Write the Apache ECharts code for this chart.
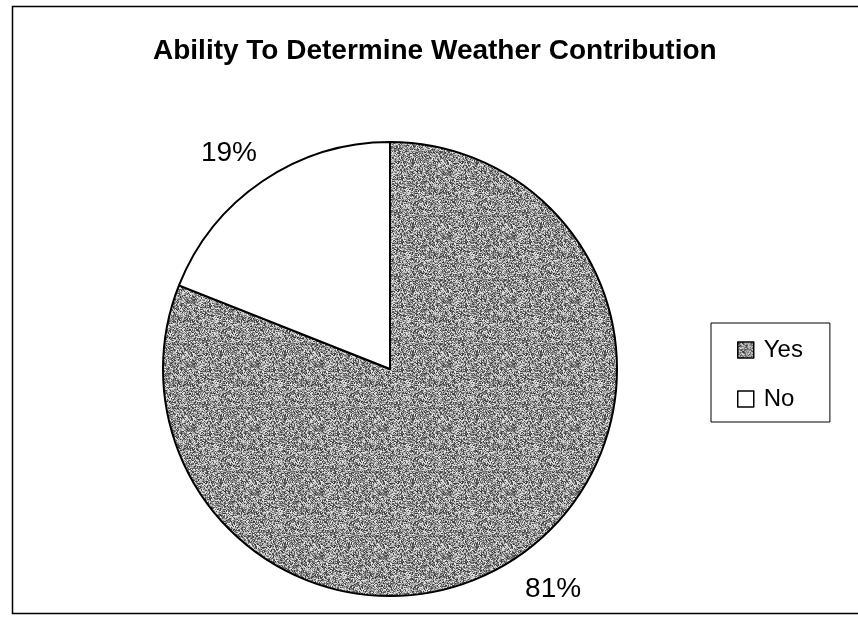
<!DOCTYPE html>
<html>
<head>
<meta charset="utf-8">
<style>
  html, body { margin: 0; padding: 0; background: #fff; }
  #chart { width: 858px; height: 622px; }
</style>
<script src="https://cdn.jsdelivr.net/npm/echarts@6/dist/echarts.min.js"></script>
</head>
<body>
<div id="chart"></div>
<script>
// Survey answers and their shares (percent)
const categories = ['Yes', 'No'];
const shares = [81, 19];
const chartTitle = 'Ability To Determine Weather Contribution';

// Grainy halftone fill for the "Yes" slice, built from a deterministic hash
function halftoneTile(size, base, spread) {
  const c = document.createElement('canvas');
  c.width = size; c.height = size;
  const ctx = c.getContext('2d');
  const img = ctx.createImageData(size, size);
  for (let y = 0; y < size; y++) {
    for (let x = 0; x < size; x++) {
      let h = (x * 374761393 + y * 668265263) | 0;
      h = Math.imul(h ^ (h >>> 13), 1274126177);
      h = (h ^ (h >>> 16)) >>> 0;
      const t = (h % 1000) / 1000;            // 0..1
      let v = base + (t - 0.5) * 2 * spread;
      v = Math.max(0, Math.min(255, Math.round(v)));
      const k = (y * size + x) * 4;
      img.data[k] = img.data[k + 1] = img.data[k + 2] = v;
      img.data[k + 3] = 255;
    }
  }
  ctx.putImageData(img, 0, 0);
  return c;
}

const grain = halftoneTile(64, 145, 95);
const sliceColors = [{ image: grain, repeat: 'repeat' }, '#ffffff'];

const chart = echarts.init(document.getElementById('chart'), null, { renderer: 'canvas' });

const pieData = categories.map((name, i) => ({
  name: name,
  value: shares[i],
  itemStyle: { color: sliceColors[i] }
}));

chart.setOption({
  backgroundColor: '#ffffff',
  animation: false,
  textStyle: { fontFamily: 'Liberation Sans, Arial, sans-serif' },
  title: {
    text: chartTitle,
    left: 148,
    top: 32,
    textStyle: {
      fontFamily: 'Liberation Sans, Arial, sans-serif',
      fontWeight: 'bold',
      fontSize: 28,
      color: '#000'
    }
  },
  legend: {
    orient: 'vertical',
    left: 711,
    top: 323,
    padding: [15, 27, 11, 26],
    itemGap: 25,
    itemWidth: 16,
    itemHeight: 16,
    icon: 'rect',
    borderColor: '#000',
    borderWidth: 1,
    textStyle: { fontSize: 24, color: '#000', padding: [0, 0, 0, 5] },
    data: categories.map((name, i) => ({
      name: name,
      itemStyle: { color: sliceColors[i], borderColor: '#000', borderWidth: 1.5 }
    }))
  },
  graphic: [{
    type: 'rect',
    shape: { x: 12.5, y: 6.5, width: 860, height: 607 },
    style: { fill: 'none', stroke: '#000', lineWidth: 1.5 },
    silent: true
  }],
  series: [{
    type: 'pie',
    center: [390, 369],
    radius: 227,
    startAngle: 90,
    clockwise: true,
    data: pieData,
    itemStyle: { borderColor: '#000', borderWidth: 2 },
    emphasis: { disabled: true },
    label: {
      show: true,
      position: 'outside',
      formatter: p => p.value + '%',
      fontSize: 28,
      color: '#000'
    },
    labelLine: { show: false, length: 40, length2: 0 },
    labelLayout: function (params) {
      // nudge the labels a little further round the rim
      const left = params.labelRect.x < 390;
      return {
        align: 'center',
        verticalAlign: 'middle',
        dx: left ? -6 : 8,
        dy: left ? 5 : -1
      };
    }
  }]
});
</script>
</body>
</html>
